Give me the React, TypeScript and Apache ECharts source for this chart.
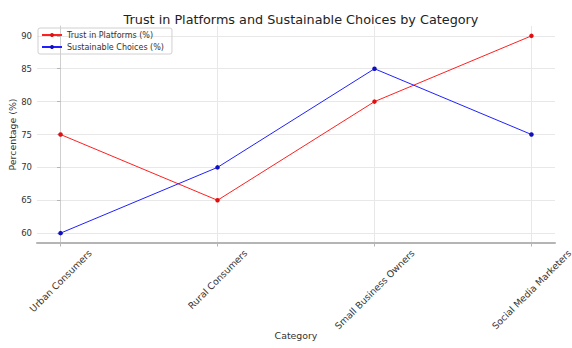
import React, { useEffect, useRef } from "react";
import * as echarts from "echarts";

const categories = ["Urban Consumers", "Rural Consumers", "Small Business Owners", "Social Media Marketers"];
const trustValues = [75, 65, 80, 90];
const sustainableValues = [60, 70, 85, 75];
const yTickValues = [60, 65, 70, 75, 80, 85, 90];
const xTickValues = [0, 1, 2, 3];

const FONT = "DejaVu Sans";

export default function App() {
  const ref = useRef<HTMLDivElement>(null);
  useEffect(() => {
    if (!ref.current) return;
    const chart = echarts.init(ref.current, undefined, { renderer: "svg" });
    const yMin = 58.5;
    chart.setOption({
      animation: false,
      backgroundColor: "#ffffff",
      title: {
        text: "Trust in Platforms and Sustainable Choices by Category",
        left: 296,
        textAlign: "center",
        top: 8,
        textStyle: { fontFamily: FONT, fontSize: 12.8, fontWeight: "normal", color: "#222" },
      },
      legend: {
        orient: "vertical",
        left: 38,
        top: 28,
        itemWidth: 20,
        itemHeight: 5,
        itemGap: 4,
        padding: [3, 8, 3, 3],
        borderColor: "#d0d0d0",
        borderWidth: 1,
        borderRadius: 2,
        textStyle: { fontFamily: FONT, fontSize: 8, color: "#333" },
        data: ["Trust in Platforms (%)", "Sustainable Choices (%)"],
      },
      grid: {
        left: 37,
        right: 17,
        top: 26,
        bottom: 105,
        containLabel: false,
        outerBoundsMode: "none",
      },
      xAxis: {
        type: "value",
        min: -0.15,
        max: 3.15,
        name: "Category",
        nameLocation: "middle",
        nameGap: 88,
        nameMoveOverlap: false,
        nameTextStyle: { fontFamily: FONT, fontSize: 9.4, color: "#333" },
        axisLine: { show: true, lineStyle: { color: "#b5b5b5", width: 2 } },
        axisTick: { show: true, length: 3.5, customValues: xTickValues, lineStyle: { color: "#b5b5b5" } },
        axisLabel: { show: false, customValues: xTickValues },
        splitLine: { show: true, lineStyle: { color: "#e8e8e8", width: 1 } },
      },
      yAxis: {
        type: "value",
        min: yMin,
        max: 91.5,
        name: "Percentage (%)",
        nameLocation: "middle",
        nameGap: 20,
        nameMoveOverlap: false,
        nameRotate: 90,
        nameTextStyle: { fontFamily: FONT, fontSize: 9.4, color: "#333" },
        axisLine: { show: true, lineStyle: { color: "#cfcfcf", width: 1 } },
        axisTick: { show: true, length: 3.5, customValues: yTickValues, lineStyle: { color: "#b5b5b5" } },
        axisLabel: {
          customValues: yTickValues,
          fontFamily: FONT,
          fontSize: 8.5,
          color: "#333",
          margin: 5,
        },
        splitLine: { show: true, lineStyle: { color: "#e8e8e8", width: 1 } },
      },
      series: [
        {
          name: "Trust in Platforms (%)",
          type: "line",
          data: categories.map((_, i) => [i, trustValues[i]]),
          symbol: "circle",
          symbolSize: 4.5,
          lineStyle: { color: "#ff2020", width: 1 },
          itemStyle: { color: "#e01010" },
        },
        {
          name: "Sustainable Choices (%)",
          type: "line",
          data: categories.map((_, i) => [i, sustainableValues[i]]),
          symbol: "circle",
          symbolSize: 4.5,
          lineStyle: { color: "#2020ff", width: 1 },
          itemStyle: { color: "#1010c0" },
        },
      ],
    });

    // rotated category labels, centred under each tick (matplotlib style)
    const fs = 9.3;
    const canvas = document.createElement("canvas");
    const ctx = canvas.getContext("2d");
    if (ctx) ctx.font = `${fs}px "${FONT}"`;
    const graphics = categories.map((c, i) => {
      const p = chart.convertToPixel({ xAxisIndex: 0, yAxisIndex: 0 }, [i, yMin]) as number[];
      const w = ctx ? ctx.measureText(c).width : c.length * fs * 0.6;
      const half = ((w + fs) * Math.SQRT1_2) / 2;
      return {
        type: "text",
        x: p[0],
        y: p[1] + 5 + half,
        rotation: Math.PI / 4,
        style: {
          text: c,
          fontFamily: FONT,
          fontSize: fs,
          fill: "#333",
          align: "center",
          verticalAlign: "middle",
        },
      };
    });
    chart.setOption({ graphic: graphics });

    return () => chart.dispose();
  }, []);
  return <div ref={ref} style={{ position: "fixed", left: 0, top: 0, width: 572, height: 348 }} />;
}
